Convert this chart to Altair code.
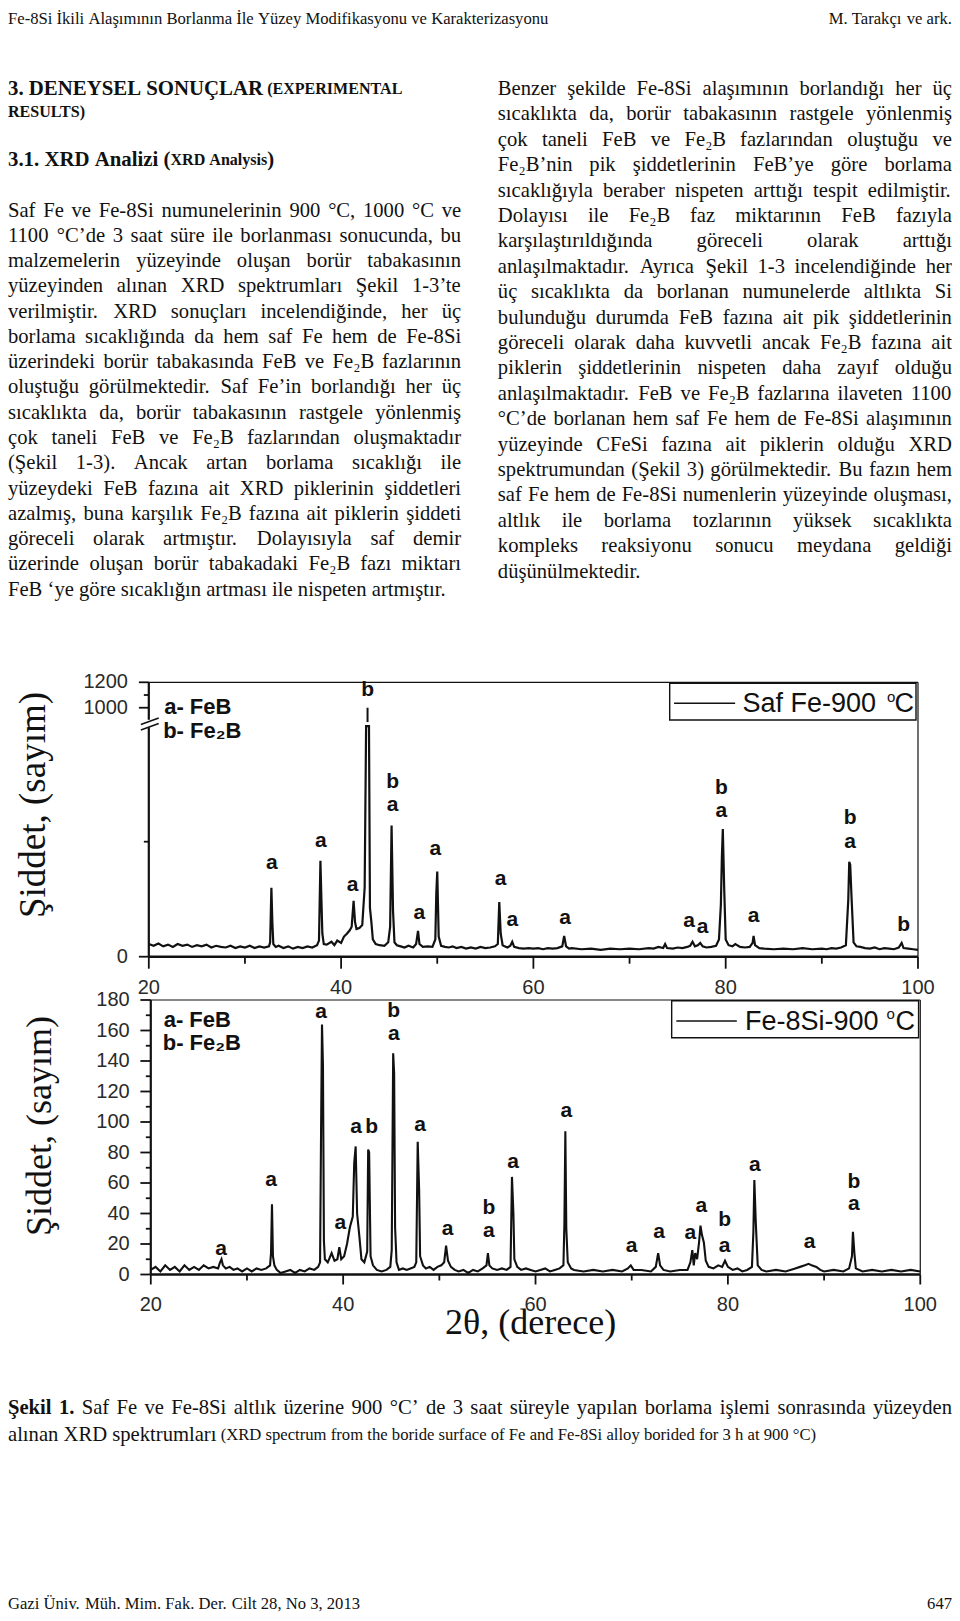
import altair as alt
import pandas as pd

# ------------------------------------------------------------------ text
HEADER_LEFT = "Fe-8Si İkili Alaşımının Borlanma İle Yüzey Modifikasyonu ve Karakterizasyonu"
HEADER_RIGHT = "M. Tarakçı ve ark."
HEAD1 = [("3.", "hbig", False), ("DENEYSEL", "hbig", True), ("SONUÇLAR", "hbig", True),
         ("(EXPERIMENTAL", "hsmall", True)]
HEAD1B = [("RESULTS)", "hsmall", False)]
HEAD2 = [("3.1.", "hbig", False), ("XRD", "hbig", True), ("Analizi", "hbig", True),
         ("(", "hbig", True), ("XRD", "hsmall", False), ("Analysis", "hsmall", True), (")", "hbig", False)]
LEFT_LINES = [
    "Saf Fe ve Fe-8Si numunelerinin 900 °C, 1000 °C ve",
    "1100 °C’de 3 saat süre ile borlanması sonucunda, bu",
    "malzemelerin yüzeyinde oluşan borür tabakasının",
    "yüzeyinden alınan XRD spektrumları Şekil 1-3’te",
    "verilmiştir. XRD sonuçları incelendiğinde, her üç",
    "borlama sıcaklığında da hem saf Fe hem de Fe-8Si",
    "üzerindeki borür tabakasında FeB ve Fe₂B fazlarının",
    "oluştuğu görülmektedir. Saf Fe’in borlandığı her üç",
    "sıcaklıkta da, borür tabakasının rastgele yönlenmiş",
    "çok taneli FeB ve Fe₂B fazlarından oluşmaktadır",
    "(Şekil 1-3). Ancak artan borlama sıcaklığı ile",
    "yüzeydeki FeB fazına ait XRD piklerinin şiddetleri",
    "azalmış, buna karşılık Fe₂B fazına ait piklerin şiddeti",
    "göreceli olarak artmıştır. Dolayısıyla saf demir",
    "üzerinde oluşan borür tabakadaki Fe₂B fazı miktarı",
    "FeB ‘ye göre sıcaklığın artması ile nispeten artmıştır.",
]
RIGHT_LINES = [
    "Benzer şekilde Fe-8Si alaşımının borlandığı her üç",
    "sıcaklıkta da, borür tabakasının rastgele yönlenmiş",
    "çok taneli FeB ve Fe₂B fazlarından oluştuğu ve",
    "Fe₂B’nin pik şiddetlerinin FeB’ye göre borlama",
    "sıcaklığıyla beraber nispeten arttığı tespit edilmiştir.",
    "Dolayısı ile Fe₂B faz miktarının FeB fazıyla",
    "karşılaştırıldığında göreceli olarak arttığı",
    "anlaşılmaktadır. Ayrıca Şekil 1-3 incelendiğinde her",
    "üç sıcaklıkta da borlanan numunelerde altlıkta Si",
    "bulunduğu durumda FeB fazına ait pik şiddetlerinin",
    "göreceli olarak daha kuvvetli ancak Fe₂B fazına ait",
    "piklerin şiddetlerinin nispeten daha zayıf olduğu",
    "anlaşılmaktadır. FeB ve Fe₂B fazlarına ilaveten 1100",
    "°C’de borlanan hem saf Fe hem de Fe-8Si alaşımının",
    "yüzeyinde CFeSi fazına ait piklerin olduğu XRD",
    "spektrumundan (Şekil 3) görülmektedir. Bu fazın hem",
    "saf Fe hem de Fe-8Si numenlerin yüzeyinde oluşması,",
    "altlık ile borlama tozlarının yüksek sıcaklıkta",
    "kompleks reaksiyonu sonucu meydana geldiği",
    "düşünülmektedir.",
]
CAPTION_BOLD = ["Şekil", "1."]
CAPTION_LINE1 = "Saf Fe ve Fe-8Si altlık üzerine 900 °C’ de 3 saat süreyle yapılan borlama işlemi sonrasında yüzeyden"
CAPTION_LINE2 = "alınan XRD spektrumları"
CAPTION_EN = "(XRD spectrum from the boride surface of Fe and Fe-8Si alloy borided for 3 h at 900 °C)"
FOOTER_LEFT = "Gazi Üniv. Müh. Mim. Fak. Der. Cilt 28, No 3, 2013"
FOOTER_RIGHT = "647"

# ------------------------------------------------------------------ chart data
TICKS_X = [20, 30, 40, 50, 60, 70, 80, 90, 100]
TICK_LABELS_X = ["20", "", "40", "", "60", "", "80", "", "100"]
TICKS_Y_FE = [0, 200, 1000, 1100, 1200]
TICK_LABELS_Y_FE = ["0", "", "1000", "", "1200"]
TICKS_Y_SI = [0, 10, 20, 30, 40, 50, 60, 70, 80, 90, 100, 110, 120, 130, 140, 150, 160, 170, 180]
TICK_LABELS_Y_SI = ["0", "", "20", "", "40", "", "60", "", "80", "", "100", "", "120", "", "140", "", "160", "", "180"]

# (2θ, intensity in counts)
SPECTRUM_FE = [
    (20.0, 22), (20.5, 19), (21.0, 23), (21.5, 18), (22.0, 21), (22.5, 17), (23.0, 22), (23.5, 19),
    (24.0, 21), (24.5, 17), (25.0, 20), (25.5, 18), (26.0, 21), (26.5, 16), (27.0, 19), (27.5, 17),
    (28.0, 16), (28.5, 19), (29.0, 15), (29.5, 18), (30.0, 16), (30.5, 19), (31.0, 15), (31.5, 18),
    (32.0, 16), (32.5, 18), (32.62, 25), (32.75, 120), (32.85, 60), (32.95, 22), (33.2, 17), (33.5, 19),
    (34.0, 15), (34.5, 18), (35.0, 14), (35.5, 17), (36.0, 15), (36.5, 18), (37.0, 16), (37.5, 20),
    (37.7, 28), (37.85, 167), (37.95, 101), (38.05, 40), (38.2, 22), (38.5, 21), (39.0, 26), (39.3, 20),
    (39.6, 28), (40.0, 24), (40.3, 35), (40.6, 40), (40.9, 46), (41.1, 52), (41.3, 97), (41.45, 60),
    (41.6, 48), (41.9, 50), (42.2, 55), (42.45, 120), (42.6, 600), (42.75, 1000), (42.9, 600), (43.0, 85),
    (43.15, 60), (43.3, 30), (43.6, 22), (44.0, 20), (44.5, 19), (44.9, 25), (45.1, 52), (45.25, 228),
    (45.4, 80), (45.55, 25), (45.8, 20), (46.2, 18), (46.6, 16), (47.0, 19), (47.5, 16), (47.8, 22),
    (48.0, 45), (48.15, 22), (48.5, 17), (49.0, 18), (49.5, 17), (49.8, 30), (49.9, 110), (50.0, 148),
    (50.15, 35), (50.4, 19), (50.8, 17), (51.2, 16), (51.6, 18), (52.0, 15), (52.5, 17), (53.0, 14),
    (53.5, 16), (54.0, 14), (54.5, 17), (55.0, 15), (55.5, 16), (56.0, 18), (56.3, 22), (56.45, 95),
    (56.6, 40), (56.8, 20), (57.0, 18), (57.3, 16), (57.6, 19), (57.8, 26), (58.0, 17), (58.5, 15),
    (59.0, 14), (59.5, 15), (60.0, 14), (60.5, 15), (61.0, 13), (61.5, 15), (62.0, 14), (62.5, 15),
    (63.0, 18), (63.2, 36), (63.4, 18), (63.7, 14), (64.0, 15), (65.0, 13), (66.0, 14), (67.0, 12),
    (68.0, 14), (69.0, 13), (70.0, 14), (71.0, 13), (72.0, 15), (72.5, 14), (73.0, 17), (73.5, 15),
    (73.7, 22), (73.9, 15), (74.5, 14), (75.0, 16), (75.5, 15), (76.0, 17), (76.3, 19), (76.55, 26),
    (76.8, 18), (77.1, 20), (77.35, 24), (77.6, 18), (78.0, 16), (78.5, 17), (79.0, 19), (79.3, 30),
    (79.5, 91), (79.6, 171), (79.7, 222), (79.85, 115), (80.0, 30), (80.3, 20), (80.7, 18), (81.0, 22),
    (81.5, 17), (82.0, 16), (82.5, 17), (82.8, 24), (82.9, 36), (83.05, 20), (83.5, 15), (84.0, 14),
    (85.0, 13), (86.0, 14), (87.0, 13), (88.0, 15), (89.0, 13), (90.0, 14), (90.5, 13), (91.0, 15),
    (91.5, 14), (92.0, 16), (92.5, 20), (92.75, 99), (92.85, 165), (92.95, 160), (93.1, 99), (93.3, 25),
    (93.6, 18), (94.0, 17), (94.5, 15), (95.0, 14), (95.5, 16), (96.0, 13), (96.5, 15), (97.0, 14),
    (97.5, 13), (98.0, 16), (98.3, 24), (98.5, 15), (99.0, 14), (99.5, 13), (100.0, 12),
]
BIG_PEAK_FE = (42.75, 1000)

SPECTRUM_SI = [
    (20.0, 3), (20.5, 5), (21.0, 2), (21.5, 6), (22.0, 3), (22.5, 5), (23.0, 2), (23.5, 6), (24.0, 3),
    (24.5, 5), (25.0, 3), (25.5, 6), (26.0, 4), (26.5, 5), (27.0, 4), (27.2, 8), (27.35, 10), (27.5, 6),
    (27.8, 4), (28.2, 5), (28.6, 3), (29.0, 4), (29.5, 2), (30.0, 4), (30.5, 2), (31.0, 4), (31.5, 3),
    (32.0, 4), (32.4, 6), (32.5, 14), (32.6, 46), (32.7, 12), (32.85, 6), (33.1, 3), (33.5, 1), (34.0, 2),
    (34.5, 3), (35.0, 1), (35.5, 3), (36.0, 2), (36.5, 4), (37.0, 3), (37.4, 5), (37.6, 8), (37.7, 92),
    (37.8, 164), (37.9, 137), (38.0, 22), (38.1, 10), (38.4, 8), (38.8, 14), (39.1, 9), (39.4, 10),
    (39.6, 18), (39.8, 10), (40.1, 12), (40.4, 20), (40.7, 31), (41.0, 38), (41.15, 73), (41.3, 84),
    (41.45, 40), (41.7, 24), (41.9, 10), (42.2, 8), (42.5, 15), (42.6, 82), (42.7, 80), (42.85, 12),
    (43.1, 6), (43.5, 3), (44.0, 2), (44.5, 3), (44.9, 5), (45.05, 16), (45.2, 145), (45.3, 132),
    (45.4, 31), (45.55, 8), (45.8, 3), (46.2, 4), (46.6, 3), (47.0, 4), (47.4, 5), (47.6, 8), (47.75, 87),
    (47.9, 55), (48.0, 12), (48.3, 6), (48.6, 4), (49.0, 5), (49.4, 3), (49.8, 5), (50.2, 6), (50.5, 8),
    (50.7, 19), (50.9, 9), (51.2, 5), (51.6, 3), (52.0, 2), (52.5, 3), (53.0, 1), (53.5, 3), (54.0, 2),
    (54.5, 4), (54.9, 6), (55.05, 14), (55.2, 6), (55.5, 4), (56.0, 3), (56.5, 4), (57.0, 3), (57.4, 5),
    (57.55, 64), (57.7, 40), (57.8, 10), (58.1, 5), (58.5, 3), (59.0, 4), (59.5, 3), (60.0, 2), (60.5, 3),
    (61.0, 4), (61.5, 2), (62.0, 3), (62.5, 4), (62.9, 6), (63.0, 33), (63.1, 94), (63.2, 30), (63.35, 8),
    (63.7, 4), (64.0, 3), (65.0, 2), (66.0, 3), (67.0, 2), (68.0, 3), (69.0, 2), (69.6, 4), (69.9, 6),
    (70.2, 3), (71.0, 3), (72.0, 2), (72.5, 5), (72.75, 14), (72.95, 6), (73.3, 3), (74.0, 2), (75.0, 3),
    (75.8, 3), (76.1, 8), (76.3, 16), (76.45, 6), (76.6, 14), (76.8, 10), (77.0, 21), (77.15, 32),
    (77.3, 26), (77.5, 21), (77.7, 9), (78.0, 5), (78.5, 4), (79.0, 6), (79.4, 5), (79.7, 9), (80.0, 5),
    (80.5, 3), (81.0, 4), (81.5, 2), (82.0, 3), (82.5, 5), (82.65, 28), (82.75, 62), (82.9, 34), (83.1, 6),
    (83.5, 3), (84.0, 2), (85.0, 3), (86.0, 2), (87.0, 4), (87.5, 5), (88.0, 6), (88.4, 7), (88.7, 6),
    (89.2, 5), (89.6, 3), (90.0, 2), (91.0, 3), (92.0, 2), (92.6, 4), (92.9, 12), (93.0, 28), (93.15, 14),
    (93.3, 4), (94.0, 2), (95.0, 3), (96.0, 2), (97.0, 3), (98.0, 2), (99.0, 3), (100.0, 2),
]

# peak phase letters: (2θ, height on the plot's own scale, letter)
LABELS_FE = [
    (32.8, 163, "a"), (37.9, 202, "a"), (41.2, 125, "a"), (42.75, 464, "b"),
    (45.35, 303, "b"), (45.35, 263, "a"), (48.15, 76, "a"), (49.8, 187, "a"),
    (56.6, 135, "a"), (57.8, 63, "a"), (63.3, 67, "a"), (76.2, 62, "a"), (77.6, 52, "a"),
    (79.55, 294, "b"), (79.55, 254, "a"), (82.9, 70, "a"), (92.95, 241, "b"), (92.95, 199, "a"),
    (98.5, 55, "b"),
]
LABELS_SI = [
    (27.3, 17, "a"), (32.5, 62, "a"), (37.7, 172, "a"), (39.7, 34, "a"), (41.34, 97, "a"),
    (42.96, 97, "b"), (45.26, 172.5, "b"), (45.26, 157.5, "a"), (48.0, 98, "a"), (50.86, 30, "a"),
    (55.15, 43.5, "b"), (55.15, 28.5, "a"), (57.67, 74, "a"), (63.2, 107, "a"), (70.0, 19, "a"),
    (72.85, 28, "a"), (76.1, 27, "a"), (77.25, 45, "a"), (79.66, 35.5, "b"), (79.66, 19, "a"),
    (82.8, 72, "a"), (88.5, 21, "a"), (93.1, 60.5, "b"), (93.1, 46.5, "a"),
]
LEGEND_FE = "Saf Fe-900"
LEGEND_SI = "Fe-8Si-900"
PHASES = ["a- FeB", "b- Fe₂B"]
Y_TITLE = "Şiddet, (sayım)"
X_TITLE = "2θ, (derece)"

# ------------------------------------------------------------------ page geometry
W, H = 944, 1605
PX0, PX1 = 5.0, 957.0
KX = W / (PX1 - PX0)
def PX(x): return (x - PX0) * KX
def PY(y): return min(max(y - 8.0, 10.5), H - 9.5)

INK = "#111111"
GREY = "#2a2a2a"
SX = alt.Scale(domain=[0, W], range=[0, W], nice=False, zero=False)
SY = alt.Scale(domain=[0, H], range=[0, H], nice=False, zero=False)

# ------------------------------------------------------------------ font metrics (Times)
TR, TB = {}, {}
def _parse(tab, spec):
    for tok in spec.split():
        tab[tok[0]] = int(tok[1:])
_parse(TR, "a444 b500 c444 d500 e444 f333 g500 h500 i278 j278 k500 l278 m778 n500 o500 p500 q500 r333 "
           "s389 t278 u500 v500 w722 x500 y500 z444 ç444 ğ500 ı278 ö500 ş389 ü500 "
           "A722 B667 C667 D722 E611 F556 G722 H722 I333 J389 K722 L611 M889 N722 O722 P556 Q722 R667 "
           "S556 T611 U722 V722 W944 X722 Y722 Z611 Ç667 Ğ722 İ333 Ö722 Ş556 Ü722 "
           "0500 1500 2500 3500 4500 5500 6500 7500 8500 9500 ,250 .250 -333 (333 )333 :278 ’333 ‘333 °400 ₂330 θ500")
_parse(TB, "a500 b556 c444 d556 e444 f333 g500 h556 i278 j333 k556 l278 m833 n556 o500 p556 q556 r444 "
           "s389 t333 u556 v500 w722 x500 y500 z444 ç444 ş389 ı278 ğ500 ü556 ö500 "
           "A722 B667 C722 D722 E667 F611 G778 H778 I389 J500 K778 L667 M944 N722 O778 P611 Q778 R722 "
           "S556 T667 U722 V722 W1000 X722 Y722 Z667 Ç722 Ş556 İ389 Ü722 Ö778 "
           "0500 1500 2500 3500 4500 5500 6500 7500 8500 9500 ,250 .250 -333 (333 )333 :333")
def em(s, bold=False):
    tab = TB if bold else TR
    return sum(250 if c == " " else tab.get(c, 500) for c in s) / 1000.0

STY = {
    "body": dict(bold=False, size=20.8),
    "hbig": dict(bold=True, size=21.0),
    "hsmall": dict(bold=True, size=16.2),
    "capb": dict(bold=True, size=20.8),
    "header": dict(bold=False, size=(550 - 5) / em(HEADER_LEFT)),
    "footer": dict(bold=False, size=(360 - 5) / em(FOOTER_LEFT)),
}
cap2_end = 5 + em(CAPTION_LINE2) * STY["body"]["size"]
STY["capen"] = dict(bold=False, size=(820 - cap2_end) / em(" " + CAPTION_EN))

def layout(tokens, x0, x1, y, mode="left"):
    ws = [em(t, STY[s]["bold"]) * STY[s]["size"] for t, s, sp in tokens]
    gs = [0.25 * STY[s]["size"] if sp else 0.0 for t, s, sp in tokens]
    nat = sum(ws) + sum(gs)
    nsp = sum(1 for g in gs if g > 0)
    extra = 0.0
    if mode == "justify" and nsp:
        extra = max((x1 - x0 - nat) / nsp, -2.0)
    x = x0 if mode != "right" else x1 - nat
    rows = []
    for (t, s, sp), w, g in zip(tokens, ws, gs):
        if sp:
            x += g + extra
        rows.append((PX(x), PY(y), t, s))
        x += w
    return rows

def words(line, style="body"):
    return [(w, style, i > 0) for i, w in enumerate(line.split(" "))]

page_rows = []
page_rows += layout(words(HEADER_LEFT, "header"), 5, 957, 12.5)
page_rows += layout(words(HEADER_RIGHT, "header"), 5, 957, 12.5, "right")
page_rows += layout(HEAD1, 5, 462, 89)
page_rows += layout(HEAD1B, 5, 462, 111.7)
page_rows += layout(HEAD2, 5, 462, 160)
for i, ln in enumerate(LEFT_LINES):
    page_rows += layout(words(ln), 5, 462, 210.5 + 25.28 * i,
                        "left" if i == len(LEFT_LINES) - 1 else "justify")
for i, ln in enumerate(RIGHT_LINES):
    page_rows += layout(words(ln), 499, 957, 89 + 25.4 * i,
                        "left" if i == len(RIGHT_LINES) - 1 else "justify")
cap1 = [(w, "capb", i > 0) for i, w in enumerate(CAPTION_BOLD)] + [(w, "body", True) for w in CAPTION_LINE1.split(" ")]
page_rows += layout(cap1, 5, 957, 1408, "justify")
cap2 = words(CAPTION_LINE2) + [(w, "capen", True) for w in CAPTION_EN.split(" ")]
page_rows += layout(cap2, 5, 957, 1434.5)
page_rows += layout(words(FOOTER_LEFT, "footer"), 5, 957, 1610)
page_rows += layout(words(FOOTER_RIGHT, "footer"), 5, 957, 1610, "right")

layers = []
for st, spec in STY.items():
    rows = [(x, y, t) for x, y, t, s in page_rows if s == st]
    if not rows:
        continue
    df = pd.DataFrame(rows, columns=["x", "y", "t"])
    layers.append(
        alt.Chart(df).mark_text(align="left", baseline="middle", font="Liberation Serif",
                                fontSize=spec["size"] * KX,
                                fontWeight="bold" if spec["bold"] else "normal", color=INK)
        .encode(x=alt.X("x:Q", scale=SX, axis=None), y=alt.Y("y:Q", scale=SY, axis=None), text="t:N"))

# ------------------------------------------------------------------ chart helpers
def rule_layer(rows, xs, ys, sw, color=INK):
    df = pd.DataFrame(rows, columns=["x", "y", "x2", "y2"])
    return alt.Chart(df).mark_rule(color=color, strokeWidth=sw, strokeCap="butt").encode(
        x=alt.X("x:Q", scale=xs, axis=None), y=alt.Y("y:Q", scale=ys, axis=None),
        x2="x2:Q", y2="y2:Q")

def text_layer(rows, xs, ys, **kw):
    df = pd.DataFrame(rows, columns=["x", "y", "t"])
    return alt.Chart(df).mark_text(**kw).encode(
        x=alt.X("x:Q", scale=xs, axis=None), y=alt.Y("y:Q", scale=ys, axis=None), text="t:N")

SANS = "Liberation Sans"
SERIF = "Liberation Serif"
LBL = 21

# ------------------------------------------------------------------ chart 1 (Saf Fe), broken y axis
F_X20, F_X100, F_Y0, F_YTOP, F_PPU = 147.0, 922.7, 956.7, 682.3, 0.575
D_TOP = (F_Y0 - F_YTOP) / F_PPU
BREAK_LO, BREAK_HI, UP_1000 = 403.0, 408.0, 433.0
UP_SLOPE = (D_TOP - UP_1000) / 200.0
def disp(v):
    return v if v <= BREAK_LO else UP_1000 + (v - 1000) * UP_SLOPE
def f_x(X): return 20 + (X - F_X20) * 80 / (F_X100 - F_X20)
def f_y(Y): return (F_Y0 - Y) / F_PPU

XS1 = alt.Scale(domain=[20, 100], range=[PX(F_X20), PX(F_X100)], nice=False, zero=False)
YS1 = alt.Scale(domain=[0, D_TOP], range=[PY(F_Y0), PY(F_YTOP)], nice=False, zero=False)

layers.append(alt.Chart(pd.DataFrame([(f_x(672.3), f_y(683.3), f_x(920.7), f_y(720))],
                                     columns=["x", "y", "x2", "y2"]))
              .mark_rect(fill="white", stroke=INK, strokeWidth=1.4)
              .encode(x=alt.X("x:Q", scale=XS1, axis=None), y=alt.Y("y:Q", scale=YS1, axis=None),
                      x2="x2:Q", y2="y2:Q"))
layers.append(rule_layer([(20, D_TOP, 100, D_TOP), (100, 0, 100, D_TOP)], XS1, YS1, 1.2))
layers.append(rule_layer([(20, 0, 100, 0)], XS1, YS1, 2.6))
layers.append(rule_layer([(20, 0, 20, BREAK_LO - 4), (20, BREAK_HI + 4, 20, D_TOP)], XS1, YS1, 2.2))
layers.append(rule_layer([(f_x(139), f_y(730), f_x(157), f_y(723.5)),
                          (f_x(139), f_y(724.5), f_x(157), f_y(718))], XS1, YS1, 1.5))
layers.append(rule_layer([(v, 0, v, -(12 if l else 7) / F_PPU) for v, l in zip(TICKS_X, TICK_LABELS_X)],
                         XS1, YS1, 1.8))
layers.append(text_layer([(v, f_y(988), l) for v, l in zip(TICKS_X, TICK_LABELS_X) if l], XS1, YS1,
                         font=SANS, fontSize=20, color=GREY, align="center", baseline="middle"))
layers.append(rule_layer([(20 - (10 if l else 5) * 80 / (F_X100 - F_X20), disp(v), 20, disp(v))
                          for v, l in zip(TICKS_Y_FE, TICK_LABELS_Y_FE)], XS1, YS1, 1.8))
layers.append(text_layer([(f_x(126), disp(v), l) for v, l in zip(TICKS_Y_FE, TICK_LABELS_Y_FE) if l],
                         XS1, YS1, font=SANS, fontSize=20, color=GREY, align="right", baseline="middle"))
layers.append(alt.Chart(pd.DataFrame(SPECTRUM_FE, columns=["tt", "c"]))
              .transform_calculate(yd=f"min(datum.c, {BREAK_LO - 2})")
              .mark_line(color=INK, strokeWidth=2.2)
              .encode(x=alt.X("tt:Q", scale=XS1, axis=None), y=alt.Y("yd:Q", scale=YS1, axis=None)))
layers.append(rule_layer([(BIG_PEAK_FE[0], BREAK_HI, BIG_PEAK_FE[0], disp(BIG_PEAK_FE[1]))], XS1, YS1, 2.0))
layers.append(text_layer([(x, y, t) for x, y, t in LABELS_FE], XS1, YS1, font=SANS, fontSize=LBL,
                         fontWeight="bold", color=INK, align="center", baseline="middle"))
layers.append(text_layer([(f_x(162.5), f_y(707.3), PHASES[0]), (f_x(161.5), f_y(730.7), PHASES[1])],
                         XS1, YS1, font=SANS, fontSize=22, fontWeight="bold", color=INK,
                         align="left", baseline="middle"))
layers.append(rule_layer([(f_x(676.7), f_y(703.3), f_x(738.3), f_y(703.3))], XS1, YS1, 1.6))
layers.append(text_layer([(f_x(745.7), f_y(704), LEGEND_FE), (f_x(899), f_y(704), "C")], XS1, YS1,
                         font=SANS, fontSize=27, color=INK, align="left", baseline="middle"))
layers.append(text_layer([(f_x(891.5), f_y(696.5), "o")], XS1, YS1,
                         font=SANS, fontSize=15, color=INK, align="left", baseline="middle"))
layers.append(text_layer([(f_x(31), f_y(805), Y_TITLE)], XS1, YS1, font=SERIF, fontSize=37, angle=270,
                         color=INK, align="center", baseline="middle"))

# ------------------------------------------------------------------ chart 2 (Fe-8Si)
S_X20, S_X100, S_Y0, S_Y180 = 149.0, 925.0, 1274.5, 1000.0
def s_x(X): return 20 + (X - S_X20) * 80 / (S_X100 - S_X20)
def s_y(Y): return (S_Y0 - Y) * 180 / (S_Y0 - S_Y180)
S_PPU = (S_Y0 - S_Y180) / 180
XS2 = alt.Scale(domain=[20, 100], range=[PX(S_X20), PX(S_X100)], nice=False, zero=False)
YS2 = alt.Scale(domain=[0, 180], range=[PY(S_Y0), PY(S_Y180)], nice=False, zero=False)

layers.append(alt.Chart(pd.DataFrame([(s_x(674.3), s_y(1000.7), s_x(923.3), s_y(1037.7))],
                                     columns=["x", "y", "x2", "y2"]))
              .mark_rect(fill="white", stroke=INK, strokeWidth=1.4)
              .encode(x=alt.X("x:Q", scale=XS2, axis=None), y=alt.Y("y:Q", scale=YS2, axis=None),
                      x2="x2:Q", y2="y2:Q"))
layers.append(rule_layer([(20, 180, 100, 180), (100, 0, 100, 180)], XS2, YS2, 1.2))
layers.append(rule_layer([(20, 0, 100, 0)], XS2, YS2, 2.6))
layers.append(rule_layer([(20, 0, 20, 180)], XS2, YS2, 2.2))
layers.append(rule_layer([(v, 0, v, -(10 if l else 6) / S_PPU) for v, l in zip(TICKS_X, TICK_LABELS_X)],
                         XS2, YS2, 1.8))
layers.append(text_layer([(v, s_y(1305), l) for v, l in zip(TICKS_X, TICK_LABELS_X) if l], XS2, YS2,
                         font=SANS, fontSize=20, color=GREY, align="center", baseline="middle"))
layers.append(rule_layer([(20 - (10.5 if l else 5) * 80 / (S_X100 - S_X20), v, 20, v)
                          for v, l in zip(TICKS_Y_SI, TICK_LABELS_Y_SI)], XS2, YS2, 1.8))
layers.append(text_layer([(s_x(127.7), v, l) for v, l in zip(TICKS_Y_SI, TICK_LABELS_Y_SI) if l],
                         XS2, YS2, font=SANS, fontSize=20, color=GREY, align="right", baseline="middle"))
layers.append(alt.Chart(pd.DataFrame(SPECTRUM_SI, columns=["tt", "c"]))
              .mark_line(color=INK, strokeWidth=2.1)
              .encode(x=alt.X("tt:Q", scale=XS2, axis=None), y=alt.Y("c:Q", scale=YS2, axis=None)))
layers.append(text_layer([(x, y, t) for x, y, t in LABELS_SI], XS2, YS2, font=SANS, fontSize=LBL,
                         fontWeight="bold", color=INK, align="center", baseline="middle"))
layers.append(text_layer([(s_x(162), s_y(1020), PHASES[0]), (s_x(161), s_y(1043), PHASES[1])],
                         XS2, YS2, font=SANS, fontSize=22, fontWeight="bold", color=INK,
                         align="left", baseline="middle"))
layers.append(rule_layer([(s_x(679), s_y(1021), s_x(740), s_y(1021))], XS2, YS2, 1.6))
layers.append(text_layer([(s_x(748.3), s_y(1021.5), LEGEND_SI), (s_x(900), s_y(1021.5), "C")], XS2, YS2,
                         font=SANS, fontSize=27, color=INK, align="left", baseline="middle"))
layers.append(text_layer([(s_x(891), s_y(1013.5), "o")], XS2, YS2,
                         font=SANS, fontSize=15, color=INK, align="left", baseline="middle"))
layers.append(text_layer([(s_x(37), s_y(1126), Y_TITLE)], XS2, YS2, font=SERIF, fontSize=36, angle=270,
                         color=INK, align="center", baseline="middle"))
layers.append(text_layer([(s_x(532), s_y(1323), X_TITLE)], XS2, YS2, font=SERIF, fontSize=36,
                         color=INK, align="center", baseline="middle"))

chart = (alt.layer(*layers)
         .resolve_scale(x="independent", y="independent")
         .properties(width=W, height=H, padding=0, autosize=alt.AutoSizeParams(type="none"),
                     background="white")
         .configure_view(stroke=None))

chart.save("out.html", embed_options={"renderer": "svg", "actions": False})
